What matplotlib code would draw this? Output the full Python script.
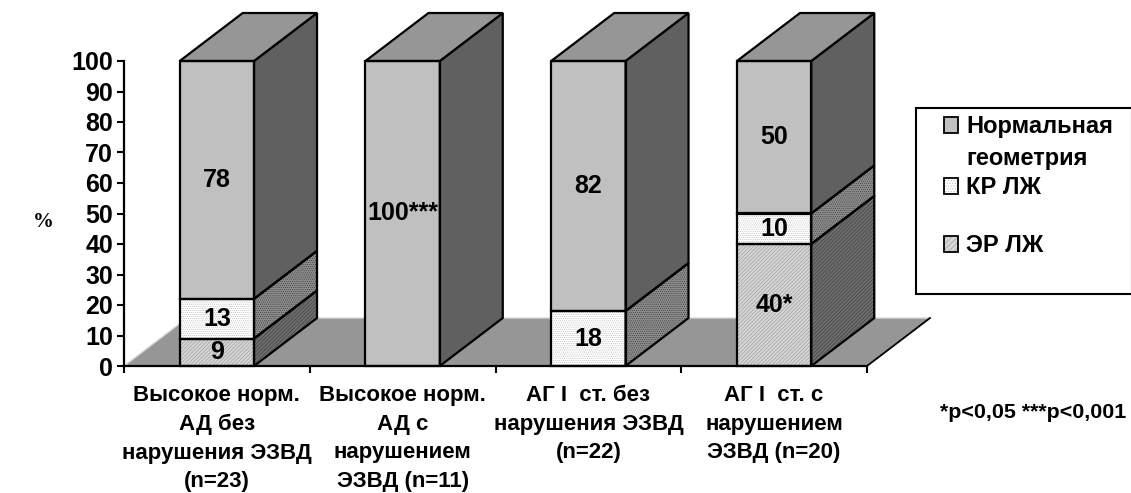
import numpy as np
import matplotlib
matplotlib.use("Agg")
import matplotlib.pyplot as plt
from matplotlib.patches import Rectangle

plt.rcParams['font.family'] = ['Liberation Sans', 'DejaVu Sans']
plt.rcParams['font.weight'] = 'bold'
plt.rcParams['hatch.linewidth'] = 0.35

categories = ["Высокое норм.\nАД без\nнарушения ЭЗВД\n(n=23)",
              "Высокое норм.\nАД с\nнарушением\nЭЗВД (n=11)",
              "АГ I  ст. без\nнарушения ЭЗВД\n(n=22)",
              "АГ I  ст. с\nнарушением\nЭЗВД (n=20)"]
er_lv = [9, 0, 0, 40]
kr_lv = [13, 0, 18, 10]
normal = [78, 100, 82, 50]
label_er = ["9", "", "", "40*"]
label_kr = ["13", "", "18", "10"]
label_normal = ["78", "100***", "82", "50"]
yticks = list(range(0, 101, 10))

W, H = 1131, 493
fig = plt.figure(figsize=(W / 100, H / 100), dpi=100)
# axes frame in pixels: x 124..867, y 61..366
ax = fig.add_axes([124 / W, 1 - 366 / H, 743 / W, 305 / H])
ax.set_xlim(0, 4)
ax.set_ylim(0, 100)
ax.patch.set_alpha(0)

bar_w = 0.40
dx = 63 / (743 / 4)   # depth of the 3d effect
dy = 48 / 3.05
x = np.arange(4) + 0.5

# floor
ax.fill([0, dx, 4 + dx, 4], [0, dy, dy, 0], facecolor="#969696", edgecolor="none",
        clip_on=False, zorder=1)
ax.plot([0, dx, 4 + dx], [0, dy, dy], color="#d8d8d8", lw=1, clip_on=False, zorder=1)
ax.plot([4, 4 + dx], [0, dy], color="black", lw=1.3, clip_on=False, zorder=1)


def draw_segments(values, bottoms, face, side, top, hatch_col=None, hatch=None, side_hatch=None):
    # front face, side face and (for the last series) the top
    for xi, v, b in zip(x, values, bottoms):
        if v == 0:
            continue
        r = xi + bar_w / 2
        l = xi - bar_w / 2
        xs = [r, r + dx, r + dx, r]
        ys = [b, b + dy, b + v + dy, b + v]
        ax.fill(xs, ys, facecolor=side, edgecolor="none", clip_on=False, zorder=3)
        if side_hatch:
            ax.fill(xs, ys, facecolor="none", edgecolor="#303030", hatch=side_hatch, lw=0,
                    clip_on=False, zorder=3)
        ax.fill(xs, ys, facecolor="none", edgecolor="black", lw=1.6, clip_on=False, zorder=4)
        if top:
            xs = [l, l + dx, r + dx, r]
            ys = [b + v, b + v + dy, b + v + dy, b + v]
            ax.fill(xs, ys, facecolor=top, edgecolor="black", lw=1.6, clip_on=False, zorder=4)
    ax.bar(x, values, bar_w, bottom=bottoms, color=face, edgecolor=hatch_col or "none",
           hatch=hatch, lw=0, zorder=3)
    ax.bar(x, values, bar_w, bottom=bottoms, facecolor="none", edgecolor=[
        "black" if v else "none" for v in values], lw=1.6, zorder=4, clip_on=False)


b1 = np.array(er_lv)
b2 = b1 + np.array(kr_lv)
draw_segments(er_lv, np.zeros(4), "#d6d6d6", "#6e6e6e", None, "#8a8a8a", "/////////", "/////////")
draw_segments(kr_lv, b1, "#ffffff", "#8c8c8c", None, "#b0b0b0", "........", "........")
draw_segments(normal, b2, "#c0c0c0", "#606060", "#969696")

# value labels on the segments
for xi, v, b, t in zip(x, er_lv, np.zeros(4), label_er):
    ax.text(xi, b + v / 2, t, ha="center", va="center", fontsize=18, zorder=5)
for xi, v, b, t in zip(x, kr_lv, b1, label_kr):
    ax.text(xi, b + v / 2, t, ha="center", va="center", fontsize=18, zorder=5)
for xi, v, b, t in zip(x, normal, b2, label_normal):
    ax.text(xi, b + v / 2, t, ha="center", va="center", fontsize=18, zorder=5)

for s in ["top", "right"]:
    ax.spines[s].set_visible(False)
for s in ["left", "bottom"]:
    ax.spines[s].set_linewidth(1.6)
    ax.spines[s].set_zorder(6)

ax.set_yticks(yticks)
ax.set_yticklabels([str(t) for t in yticks], fontsize=18)
ax.set_xticks(range(5))
ax.set_xticklabels([])
ax.tick_params(axis="both", which="major", width=1.5, length=5, pad=3)
ax.set_xticks(x, minor=True)
ax.set_xticklabels(categories, minor=True, fontsize=16, linespacing=1.46, va="top")
ax.tick_params(axis="x", which="minor", length=0, pad=14)

fig.text(43 / W, 1 - 222 / H, "%", family="Liberation Serif", fontsize=15, ha="center", va="center")
fig.text(1033 / W, 1 - 413 / H, "*p<0,05 ***p<0,001", fontsize=15.4, ha="center", va="center")

# legend drawn by hand, its rows are unevenly spaced
fig.add_artist(Rectangle((916 / W, 1 - 294 / H), 216 / W, 186 / H, transform=fig.transFigure,
                         facecolor="white", edgecolor="black", lw=1.5))
legend_rows = [("Нормальная", 127, "#c0c0c0", None, None),
               ("геометрия", 158, None, None, None),
               ("КР ЛЖ", 188, "#ffffff", "#b0b0b0", "......"),
               ("ЭР ЛЖ", 246, "#d6d6d6", "#8a8a8a", "//////")]
for text, py, col, hcol, hatch in legend_rows:
    fig.text(966 / W, 1 - py / H, text, fontsize=17, ha="left", va="center")
    if col:
        fig.add_artist(Rectangle((944 / W, 1 - (py + 5.5) / H), 14 / W, 15 / H, transform=fig.transFigure,
                                 facecolor=col, edgecolor=hcol or "black", hatch=hatch, lw=0))
        fig.add_artist(Rectangle((944 / W, 1 - (py + 5.5) / H), 14 / W, 15 / H, transform=fig.transFigure,
                                 facecolor="none", edgecolor="black", lw=1.3))

fig.savefig("out.png", dpi=100)
